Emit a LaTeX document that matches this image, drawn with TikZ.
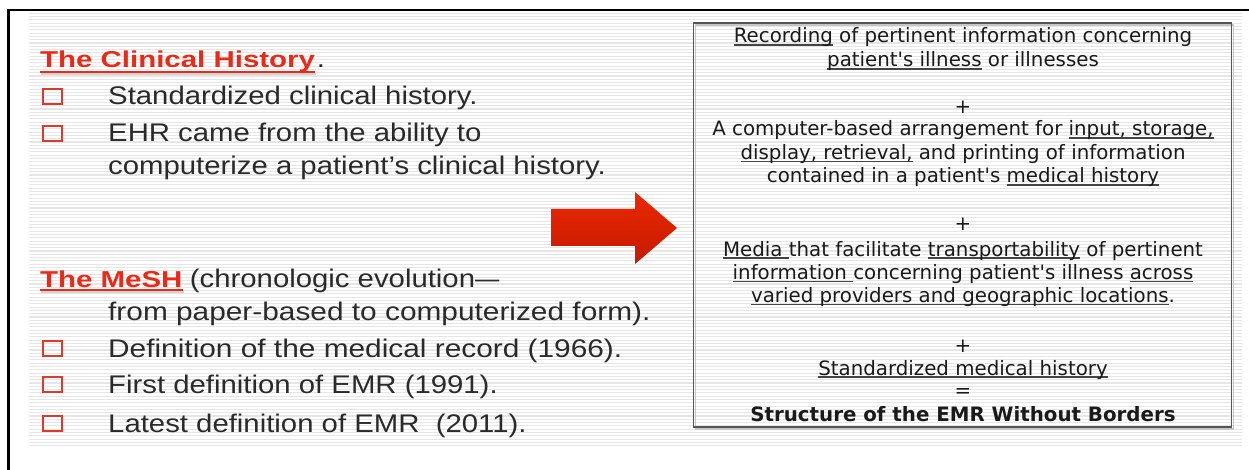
\documentclass[tikz,border=0pt]{standalone}
\usepackage{fontspec}
\setmainfont{Liberation Sans}
\newfontfamily\verd{DejaVu Sans}
\usepackage{graphicx}
\usetikzlibrary{calc}
\definecolor{hred}{HTML}{EA2A18}
\definecolor{bred}{HTML}{E0382A}
\definecolor{txtgray}{HTML}{2A2A2A}
\definecolor{rtxt}{HTML}{1A1A1A}
\definecolor{ulgray}{HTML}{444444}
\definecolor{stripe}{HTML}{E6E6E6}
\definecolor{boxgray}{HTML}{555555}
\definecolor{arrtop}{HTML}{EC2800}
\definecolor{arrbot}{HTML}{C41A00}
\newcommand\myul[1]{\leavevmode\setbox0=\hbox{#1}\rlap{\color{ulgray}\rule[-2.6pt]{\wd0}{1.3pt}}\box0\relax}
\newcommand\lsc[1]{\scalebox{1.15}[1]{#1}}
\newcommand\hsc[1]{\scalebox{1.28}[1]{#1}}
\begin{document}
\begin{tikzpicture}[x=1pt,y=-1pt,
  lefttxt/.style={anchor=base west, inner sep=0pt, text=txtgray, font=\fontsize{25.5}{30}\selectfont},
  heading/.style={anchor=base west, inner sep=0pt, text=hred, font=\fontsize{23}{28}\selectfont\bfseries},
  righttxt/.style={anchor=base, inner sep=0pt, text=rtxt, font=\verd\fontsize{19.8}{24}\selectfont},
  bulletbox/.style={draw=bred, line width=2.3pt, minimum width=18.5pt, minimum height=14.5pt, inner sep=0pt},
  hul/.style={draw=hred, line width=2pt},
  hulshadow/.style={draw=gray!35, line width=2.5pt}
]
\useasboundingbox (0,0) rectangle (1249,470);
% striped background
\fill[white] (0,0) rectangle (1249,470);
\foreach \k in {0,...,131} {
  \fill[stripe] (29,{12.8+3.3*\k}) rectangle (1242,{13.9+3.3*\k});
}
% outer frame lines
\draw[black, line width=2.7pt] (8.7,470) -- (8.7,10) -- (1249,10);

% ---- left column ----
\node[heading] (h1) at (40,68) {\hsc{The Clinical History}};
\node[lefttxt, anchor=base west] (h1dot) at ($(h1.base east)+(1.5,0)$) {\lsc{.}};
\draw[hulshadow] ($(h1.base west)+(1,6)$) -- ($(h1.base east)+(1,6)$);
\draw[hul] ($(h1.base west)+(0,3.7)$) -- ($(h1.base east)+(0,3.7)$);

\node[bulletbox] (b1) at (52.5,96.5) {};
\node[lefttxt] (t1) at (108,105) {\lsc{Standardized clinical history.}};
\node[bulletbox] (b2) at (52.5,133.5) {};
\node[lefttxt] (t2) at (108,142) {\lsc{EHR came from the ability to}};
\node[lefttxt] (t2b) at (108,175) {\lsc{computerize a patient’s clinical history.}};

\node[heading] (h2) at (40,287) {\hsc{The MeSH}};
\draw[hulshadow] ($(h2.base west)+(1,5)$) -- ($(h2.base east)+(1,5)$);
\draw[hul] ($(h2.base west)+(0,2.6)$) -- ($(h2.base east)+(0,2.6)$);
\node[lefttxt] (h2b) at ($(h2.base east)+(7,0)$) {\lsc{(chronologic evolution}\scalebox{0.95}[1]{—}};
\node[lefttxt] (h2c) at (108,320) {\scalebox{1.17}[1]{from paper-based to computerized form).}};

\node[bulletbox] (b3) at (52.5,348.5) {};
\node[lefttxt] (t3) at (108,357) {\scalebox{1.17}[1]{Definition of the medical record (1966).}};
\node[bulletbox] (b4) at (52.5,384.5) {};
\node[lefttxt] (t4) at (108,393) {\lsc{First definition of EMR (1991).}};
\node[bulletbox] (b5) at (52.5,423.5) {};
\node[lefttxt] (t5) at (108,432) {\lsc{Latest definition of EMR\ \ (2011).}};

% ---- arrow ----
\shade[top color=arrtop, bottom color=arrbot]
  (551,209) -- (635,209) -- (635,192) -- (677,228) -- (635,264) -- (635,246) -- (551,246) -- cycle;

% ---- right box ----
\draw[gray!45, line width=1.6pt] (695.5,24.8) rectangle (1233.5,429);
\draw[boxgray, line width=1.8pt] (693.5,22.8) rectangle (1231.5,427);

\node[righttxt] (r1) at (963,43) {\myul{Recording} of pertinent information concerning};
\node[righttxt] (r2) at (963,67) {\myul{patient's illness} or illnesses};
\node[righttxt] (p1) at (963,114) {+};
\node[righttxt] (r3) at (963,136) {A computer-based arrangement for \myul{input, storage,}};
\node[righttxt] (r4) at (963,159.5) {\myul{display, retrieval,} and printing of information};
\node[righttxt] (r5) at (963,183) {contained in a patient's \myul{medical history}};
\node[righttxt] (p2) at (963,231) {+};
\node[righttxt] (r6) at (963,256) {\myul{Media }that facilitate \myul{transportability} of pertinent};
\node[righttxt] (r7) at (963,279.3) {\myul{information }concerning patient's illness \myul{across}};
\node[righttxt] (r8) at (963,302.7) {\myul{varied providers and geographic locations}.};
\node[righttxt] (p3) at (963,352) {+};
\node[righttxt] (r9) at (963,375) {\myul{Standardized medical history}};
\node[righttxt] (eq) at (963,397.5) {=};
\node[righttxt, font=\verd\bfseries\fontsize{19.8}{24}\selectfont] (r10) at (963,421.7) {Structure of the EMR Without Borders};
\end{tikzpicture}
\end{document}
